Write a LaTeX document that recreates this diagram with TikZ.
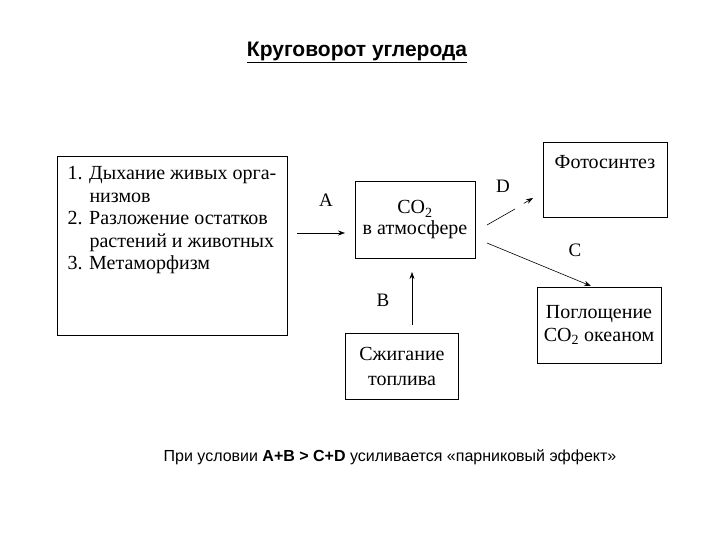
\documentclass[tikz,border=0pt]{standalone}
\usepackage{fontspec}
\setmainfont{Liberation Serif}
\setsansfont{Liberation Sans}
\usetikzlibrary{arrows.meta,calc}
\begin{document}
\begin{tikzpicture}[x=1pt,y=-1pt,
  bx/.style={draw,line width=1pt,inner sep=0pt},
  ar/.style={-{Stealth[length=7pt,width=5pt]},line width=0.6pt},
  lb/.style={font=\fontsize{19}{21}\selectfont}]
\useasboundingbox (0,0) rectangle (720,540);
\node[font=\sffamily\bfseries\fontsize{21}{24}\selectfont] (title) at (357,52) {\underline{Круговорот углерода}};
\node[bx,minimum width=230pt,minimum height=178pt] (src) at (172,246) {};
\node[anchor=north west,align=left,font=\fontsize{20}{22.5}\selectfont] (srct) at (64,163)
 {1. Дыхание живых орга-\\\hspace*{22pt}низмов\\2. Разложение остатков\\\hspace*{22pt}растений и животных\\3. Метаморфизм};
\node[bx,minimum width=120pt,minimum height=76pt,align=center,font=\fontsize{20}{21}\selectfont] (co2) at (415,220) {CO\textsubscript{2}\\в атмосфере};
\node[bx,minimum width=124pt,minimum height=75pt] (ph) at (605,180) {};
\node[font=\fontsize{20}{22}\selectfont] (pht) at (605,162) {Фотосинтез};
\node[bx,minimum width=124pt,minimum height=76pt,align=center,font=\fontsize{20}{23}\selectfont] (oc) at (599,325) {Поглощение\\CO\textsubscript{2} океаном};
\node[bx,minimum width=113pt,minimum height=66pt,align=center,font=\fontsize{20}{25}\selectfont] (fu) at (402,366) {Сжигание\\топлива};
\coordinate (a0) at (297,233); \coordinate (a1) at (345,233);
\coordinate (b0) at (412,325); \coordinate (b1) at (412,272);
\coordinate (d0) at (487,225); \coordinate (dm) at (515,209); \coordinate (d1) at (533,198);
\coordinate (c0) at (487,243); \coordinate (c1) at (591,286);
\draw[ar] (a0) -- (a1);
\draw[ar] (b0) -- (b1);
\draw[line width=0.6pt] (d0) -- (dm);
\draw[ar] ($(d0)!0.8!(d1)$) -- (d1);
\draw[ar] (c0) -- (c1);
\node[lb] (la) at (326,200) {A};
\node[lb] (lbb) at (383,300) {B};
\node[lb] (ld) at (503,186) {D};
\node[lb] (lc) at (575,250) {C};
\node[font=\sffamily\fontsize{16}{18}\selectfont] (note) at (390,457) {При условии \textbf{A+B > C+D} усиливается «парниковый эффект»};
\end{tikzpicture}
\end{document}
